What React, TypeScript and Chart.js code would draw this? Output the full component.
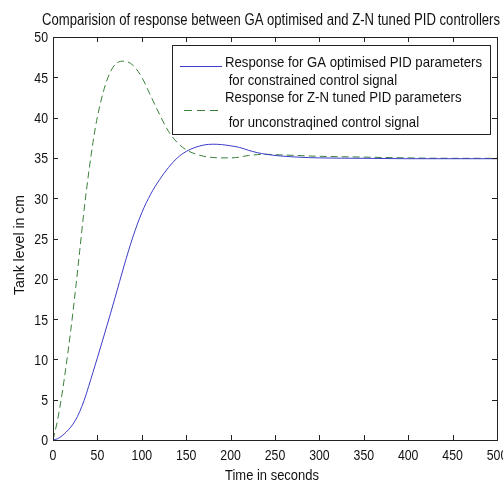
import React, { useEffect, useRef } from "react";
import { Chart, registerables } from "chart.js";

Chart.register(...registerables);

const titleText = "Comparision of response between GA optimised and Z-N tuned PID controllers";
const xTitle = "Time in seconds";
const yTitle = "Tank level in cm";
const legendGA = ["Response for GA optimised PID parameters", " for constrained control signal"];
const legendZN = ["Response for Z-N tuned PID parameters", " for unconstraqined control signal"];

const timeSec = [0, 5, 10, 15, 20, 25, 30, 35, 40, 45, 50, 60, 70, 80, 90, 100, 110, 120, 130, 140, 150, 160, 170, 180, 190, 200, 210, 220, 230, 240, 250, 275, 300, 350, 400, 450, 500];
const levelGA = [0, 0.15, 0.5, 1.0, 1.6, 2.4, 3.5, 4.9, 6.6, 8.4, 10.2, 13.9, 17.7, 21.6, 25.2, 28.2, 30.5, 32.3, 33.8, 35.0, 35.8, 36.3, 36.6, 36.7, 36.65, 36.5, 36.3, 35.95, 35.65, 35.45, 35.3, 35.1, 35.0, 34.95, 34.9, 34.9, 34.9];
const levelZN = [0, 2.4, 5.6, 9.4, 13.6, 18.3, 23.4, 28.5, 33.0, 36.9, 40.1, 44.4, 46.6, 47.0, 46.5, 45.0, 42.7, 40.4, 38.3, 36.9, 36.0, 35.5, 35.2, 35.05, 35.0, 35.0, 35.1, 35.3, 35.4, 35.45, 35.4, 35.3, 35.2, 35.1, 35.0, 34.95, 34.95];
const xTicks = [0, 50, 100, 150, 200, 250, 300, 350, 400, 450, 500];
const yTicks = [0, 5, 10, 15, 20, 25, 30, 35, 40, 45, 50];

const FONT = "'Liberation Sans', Arial, sans-serif";
const BLUE = "#3c3cc8";
const GREEN = "#3a803a";
const NARROW = 0.82;

function drawText(ctx: any, text: string, x: number, y: number, align: string, sx: number) {
  ctx.save();
  ctx.translate(x, y);
  ctx.scale(sx, 1);
  ctx.textAlign = align;
  ctx.textBaseline = "alphabetic";
  ctx.fillText(text, 0, 0);
  ctx.restore();
}

function fitScale(ctx: any, text: string, target: number) {
  return target / ctx.measureText(text).width;
}

const decorPlugin = {
  id: "decor",
  afterDatasetsDraw(chart: any) {
    const { ctx, chartArea: a, scales } = chart;
    const xs = scales.x, ys = scales.y;
    ctx.save();
    // box
    ctx.strokeStyle = "#222";
    ctx.lineWidth = 1;
    ctx.strokeRect(Math.round(a.left) + 0.5, Math.round(a.top) + 0.5, Math.round(a.right - a.left), Math.round(a.bottom - a.top));
    // inside ticks
    const tl = 5;
    ctx.beginPath();
    xs.ticks.forEach((t: any) => {
      const px = Math.round(xs.getPixelForValue(t.value)) + 0.5;
      ctx.moveTo(px, a.bottom); ctx.lineTo(px, a.bottom - tl);
      ctx.moveTo(px, a.top); ctx.lineTo(px, a.top + tl);
    });
    ys.ticks.forEach((t: any) => {
      const py = Math.round(ys.getPixelForValue(t.value)) + 0.5;
      ctx.moveTo(a.left, py); ctx.lineTo(a.left + tl, py);
      ctx.moveTo(a.right, py); ctx.lineTo(a.right - tl, py);
    });
    ctx.stroke();

    ctx.fillStyle = "#111";
    ctx.font = `15px ${FONT}`;
    // tick labels from the library's scales
    xs.ticks.forEach((t: any) => {
      drawText(ctx, String(t.label), xs.getPixelForValue(t.value), 460, "center", NARROW);
    });
    ys.ticks.forEach((t: any) => {
      drawText(ctx, String(t.label), 48, ys.getPixelForValue(t.value) + 5.4, "right", NARROW);
    });

    // titles
    ctx.font = `16px ${FONT}`;
    drawText(ctx, titleText, 271, 25, "center", fitScale(ctx, titleText, 458));
    ctx.font = `15px ${FONT}`;
    drawText(ctx, xTitle, 272, 480, "center", fitScale(ctx, xTitle, 94));
    ctx.save();
    ctx.translate(24, 245);
    ctx.rotate(-Math.PI / 2);
    drawText(ctx, yTitle, 0, 0, "center", fitScale(ctx, yTitle, 100));
    ctx.restore();

    // legend
    const lx = 172, ly = 45, lw = 318, lh = 89;
    ctx.fillStyle = "#fff";
    ctx.fillRect(lx, ly, lw, lh);
    ctx.strokeStyle = "#222";
    ctx.strokeRect(lx + 0.5, ly + 0.5, lw, lh);
    ctx.lineWidth = 1;
    ctx.strokeStyle = BLUE;
    ctx.beginPath(); ctx.moveTo(180, 66.5); ctx.lineTo(222, 66.5); ctx.stroke();
    ctx.strokeStyle = GREEN;
    ctx.setLineDash([8, 5]);
    ctx.beginPath(); ctx.moveTo(184, 110.5); ctx.lineTo(222, 110.5); ctx.stroke();
    ctx.setLineDash([]);
    ctx.fillStyle = "#111";
    ctx.font = `15px ${FONT}`;
    const ls = fitScale(ctx, legendGA[0], 257);
    drawText(ctx, legendGA[0], 225, 67, "left", ls);
    drawText(ctx, legendGA[1], 225, 85, "left", ls);
    drawText(ctx, legendZN[0], 225, 102, "left", ls);
    drawText(ctx, legendZN[1], 225, 127, "left", ls);
    ctx.restore();
  },
};

export default function App() {
  const ref = useRef<HTMLCanvasElement>(null);
  useEffect(() => {
    document.body.style.margin = "0";
    const chart = new Chart(ref.current as HTMLCanvasElement, {
      type: "line",
      data: {
        datasets: [
          {
            label: legendGA.join(""),
            data: timeSec.map((t, i) => ({ x: t, y: levelGA[i] })),
            borderColor: BLUE,
            borderWidth: 1,
            pointRadius: 0,
            cubicInterpolationMode: "monotone",
            fill: false,
          },
          {
            label: legendZN.join(""),
            data: timeSec.map((t, i) => ({ x: t, y: levelZN[i] })),
            borderColor: GREEN,
            borderWidth: 1,
            borderDash: [7, 4],
            pointRadius: 0,
            cubicInterpolationMode: "monotone",
            fill: false,
          },
        ],
      },
      options: {
        animation: false,
        responsive: true,
        maintainAspectRatio: false,
        layout: { padding: { top: 37, right: 6, left: 0, bottom: 0 } },
        plugins: { legend: { display: false }, tooltip: { enabled: false }, title: { display: false } },
        scales: {
          x: {
            type: "linear",
            min: 0,
            max: 500,
            grid: { display: false, drawTicks: false },
            border: { display: false },
            afterBuildTicks: (s: any) => { s.ticks = xTicks.map((v) => ({ value: v })); },
            afterFit: (s: any) => { s.height = 43; s.paddingLeft = 0; s.paddingRight = 0; },
            ticks: { display: false },
          },
          y: {
            type: "linear",
            min: 0,
            max: 50,
            grid: { display: false, drawTicks: false },
            border: { display: false },
            afterBuildTicks: (s: any) => { s.ticks = yTicks.map((v) => ({ value: v })); },
            afterFit: (s: any) => { s.width = 53; s.paddingTop = 0; s.paddingBottom = 0; },
            ticks: { display: false },
          },
        },
      },
      plugins: [decorPlugin],
    } as any);
    return () => chart.destroy();
  }, []);
  return (
    <div style={{ position: "absolute", left: 0, top: 0, width: 503, height: 483, background: "#fff" }}>
      <canvas ref={ref} />
    </div>
  );
}
